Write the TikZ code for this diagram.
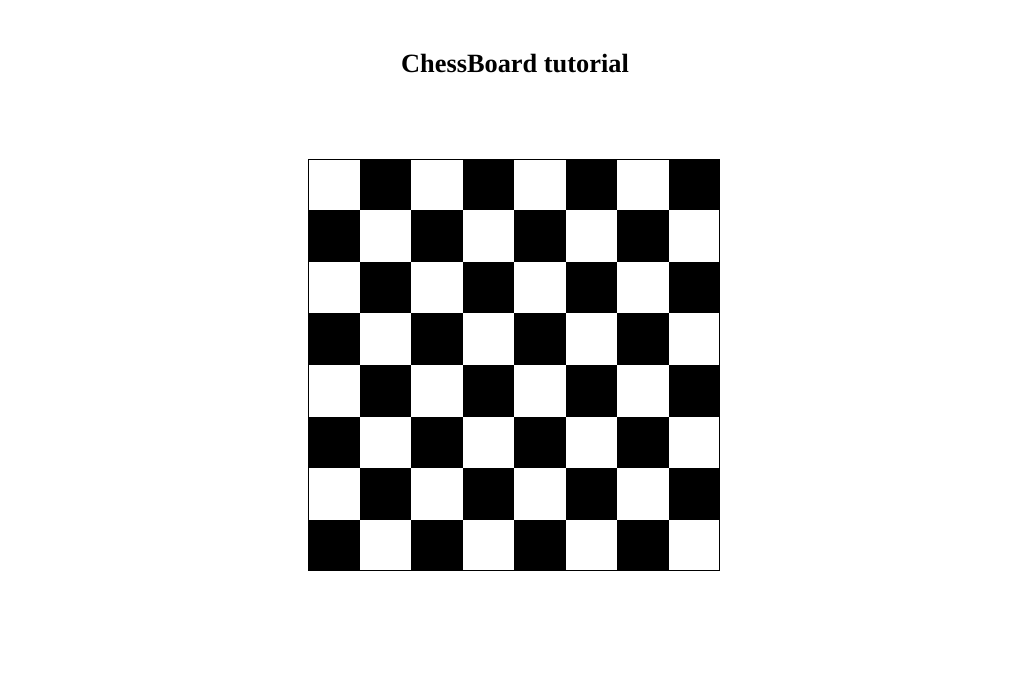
\documentclass[tikz,border=0pt]{standalone}
\usepackage{fontspec}
\setmainfont{Liberation Serif}
\usetikzlibrary{positioning}

\begin{document}
\begin{tikzpicture}[x=0.02cm, y=-0.02cm,
    darksq/.style={fill=black, draw=none},
    boardframe/.style={draw=black, line width=0.6pt, inner sep=0pt, minimum size=8.24cm}]
  % Canvas
  \useasboundingbox (0,0) rectangle (1020,685);

  % Title
  \node[font=\bfseries\fontsize{15}{18}\selectfont] (title) at (515,64) {ChessBoard tutorial};

  % Squares of the board
  \foreach \r in {0,...,7} {
    \foreach \c in {0,...,7} {
      \pgfmathtruncatemacro{\isdark}{mod(\r+\c,2)}
      \ifnum\isdark=1
        \fill[darksq] (308+51.5*\c,159+51.5*\r) rectangle ++(51.5,51.5);
      \fi
    }
  }

  % Outer frame
  \node[boardframe] (board) at (514,365) {};
\end{tikzpicture}
\end{document}
